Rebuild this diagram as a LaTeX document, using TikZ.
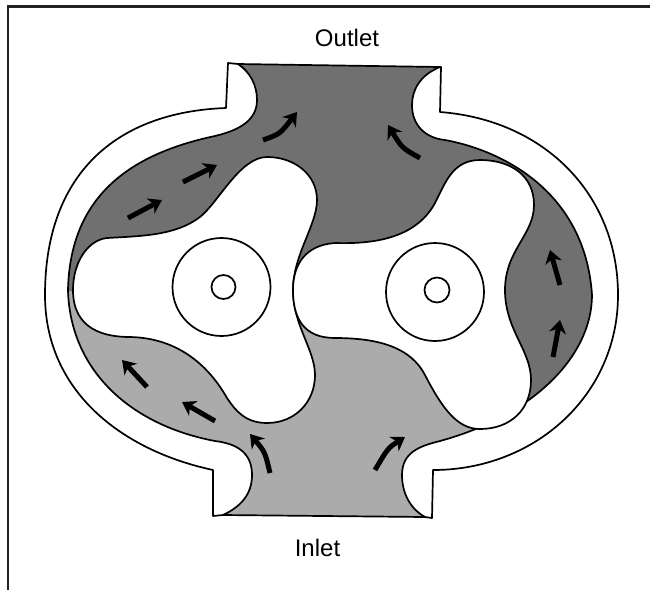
\documentclass[tikz,border=0pt]{standalone}
\usepackage{fontspec}
\setmainfont{Liberation Sans}
\usetikzlibrary{arrows.meta}
\definecolor{darkgas}{HTML}{707070}
\definecolor{lightgas}{HTML}{ABABAB}
\definecolor{framec}{HTML}{222222}
\newcommand{\chamberpath}{(238,64) -- (440,67)
  .. controls (420,75) and (412,90) .. (412,105)
  .. controls (412,125) and (425,138) .. (445,140)
  .. controls (500,150) and (585,190) .. (592,295)
  .. controls (592,355) and (535,415) .. (440,441)
  .. controls (420,446) and (402,452) .. (402,475)
  .. controls (402,495) and (412,510) .. (425,517)
  -- (223,515)
  .. controls (240,507) and (252,495) .. (252,475)
  .. controls (252,455) and (240,444) .. (215,441)
  .. controls (130,425) and (70,370) .. (68,290)
  .. controls (70,200) and (125,155) .. (215,136)
  .. controls (240,130) and (257,120) .. (257,100)
  .. controls (257,85) and (250,72) .. (238,64)
  -- cycle}
\tikzset{
  wall/.style={draw=black,line width=1.7pt,line join=round},
  rotor/.style={wall,fill=white},
  flow/.style={line width=5pt,-{Stealth[length=13pt,width=17pt,inset=4pt]},black},
  caption/.style={inner sep=0pt,font=\fontsize{24}{24}\selectfont},
}
\begin{document}
\begin{tikzpicture}[x=1pt,y=-1pt]
\useasboundingbox (0,0) rectangle (650,590);
\fill[white] (0,0) rectangle (650,590);
% chamber fills
\fill[lightgas] \chamberpath;
\begin{scope}
  \clip \chamberpath;
  \fill[darkgas] (40,291) -- (295,293) -- (436,289) -- (503,419) -- (640,419) -- (640,40) -- (40,40) -- cycle;
\end{scope}
\draw[wall] \chamberpath;
% housing
\draw[wall] (238,64) -- (228,63) -- (226,108)
  .. controls (115,112) and (45,175) .. (45,295)
  .. controls (45,390) and (120,450) .. (213,470)
  -- (213,516) -- (223,515);
\draw[wall] (425,517) -- (432,518) -- (433,470)
  .. controls (535,470) and (618,395) .. (618,295)
  .. controls (618,195) and (545,120) .. (440,112)
  -- (441,67) -- (440,67);
% rotors
\draw[rotor] (73,290)
  .. controls (73,262) and (88,240) .. (107,238)
  .. controls (140,236) and (175,236) .. (200,217)
  .. controls (218,203) and (240,157) .. (267,157)
  .. controls (295,157) and (317,175) .. (317,200)
  .. controls (317,225) and (293,255) .. (293,290)
  .. controls (293,325) and (315,350) .. (315,375)
  .. controls (315,402) and (295,423) .. (267,423)
  .. controls (245,423) and (235,410) .. (227,398)
  .. controls (210,368) and (180,338) .. (130,337)
  .. controls (105,337) and (73,330) .. (73,290) -- cycle;
\draw[rotor] (293,290)
  .. controls (293,265) and (305,245) .. (335,243)
  .. controls (370,244) and (415,240) .. (435,203)
  .. controls (445,184) and (452,160) .. (480,160)
  .. controls (510,160) and (534,175) .. (534,205)
  .. controls (534,235) and (505,250) .. (505,290)
  .. controls (505,330) and (531,350) .. (531,380)
  .. controls (531,410) and (510,429) .. (480,429)
  .. controls (458,429) and (443,410) .. (425,375)
  .. controls (411,348) and (380,338) .. (335,338)
  .. controls (305,338) and (293,320) .. (293,290) -- cycle;
% shafts
\draw[wall] (221.5,287) circle[radius=49];
\draw[wall] (223.5,287) circle[radius=12];
\draw[wall] (435,292) circle[radius=49];
\draw[wall] (437,290) circle[radius=12.5];
% flow arrows
\coordinate (a1s) at (128,218); \coordinate (a1e) at (162,200);
\coordinate (a2s) at (183,182); \coordinate (a2e) at (217,165);
\coordinate (a3s) at (263,140); \coordinate (a3e) at (297,112);
\coordinate (a4s) at (420,158); \coordinate (a4e) at (388,125);
\coordinate (a5s) at (560,285); \coordinate (a5e) at (550,250);
\coordinate (a6s) at (553,357); \coordinate (a6e) at (560,320);
\coordinate (a7s) at (147,387); \coordinate (a7e) at (122,360);
\coordinate (a8s) at (215,421); \coordinate (a8e) at (182,402);
\coordinate (a9s) at (270,473); \coordinate (a9e) at (250,434);
\coordinate (a10s) at (375,470); \coordinate (a10e) at (405,437);
\draw[flow] (a1s) -- (a1e);
\draw[flow] (a2s) -- (a2e);
\draw[flow] (a3s) .. controls (280,134) .. (a3e);
\draw[flow] (a4s) .. controls (402,148) .. (a4e);
\draw[flow] (a5s) -- (a5e);
\draw[flow] (a6s) -- (a6e);
\draw[flow] (a7s) -- (a7e);
\draw[flow] (a8s) -- (a8e);
\draw[flow] (a9s) .. controls (265,452) .. (a9e);
\draw[flow] (a10s) .. controls (388,448) .. (a10e);
% frame
\draw[framec,line width=2.6pt] (8,590) -- (8,6.5) -- (650,6.5);
% labels
\node[caption] (outlet) at (347,38) {Outlet};
\node[caption] (inlet) at (317.5,548) {Inlet};
\end{tikzpicture}
\end{document}
